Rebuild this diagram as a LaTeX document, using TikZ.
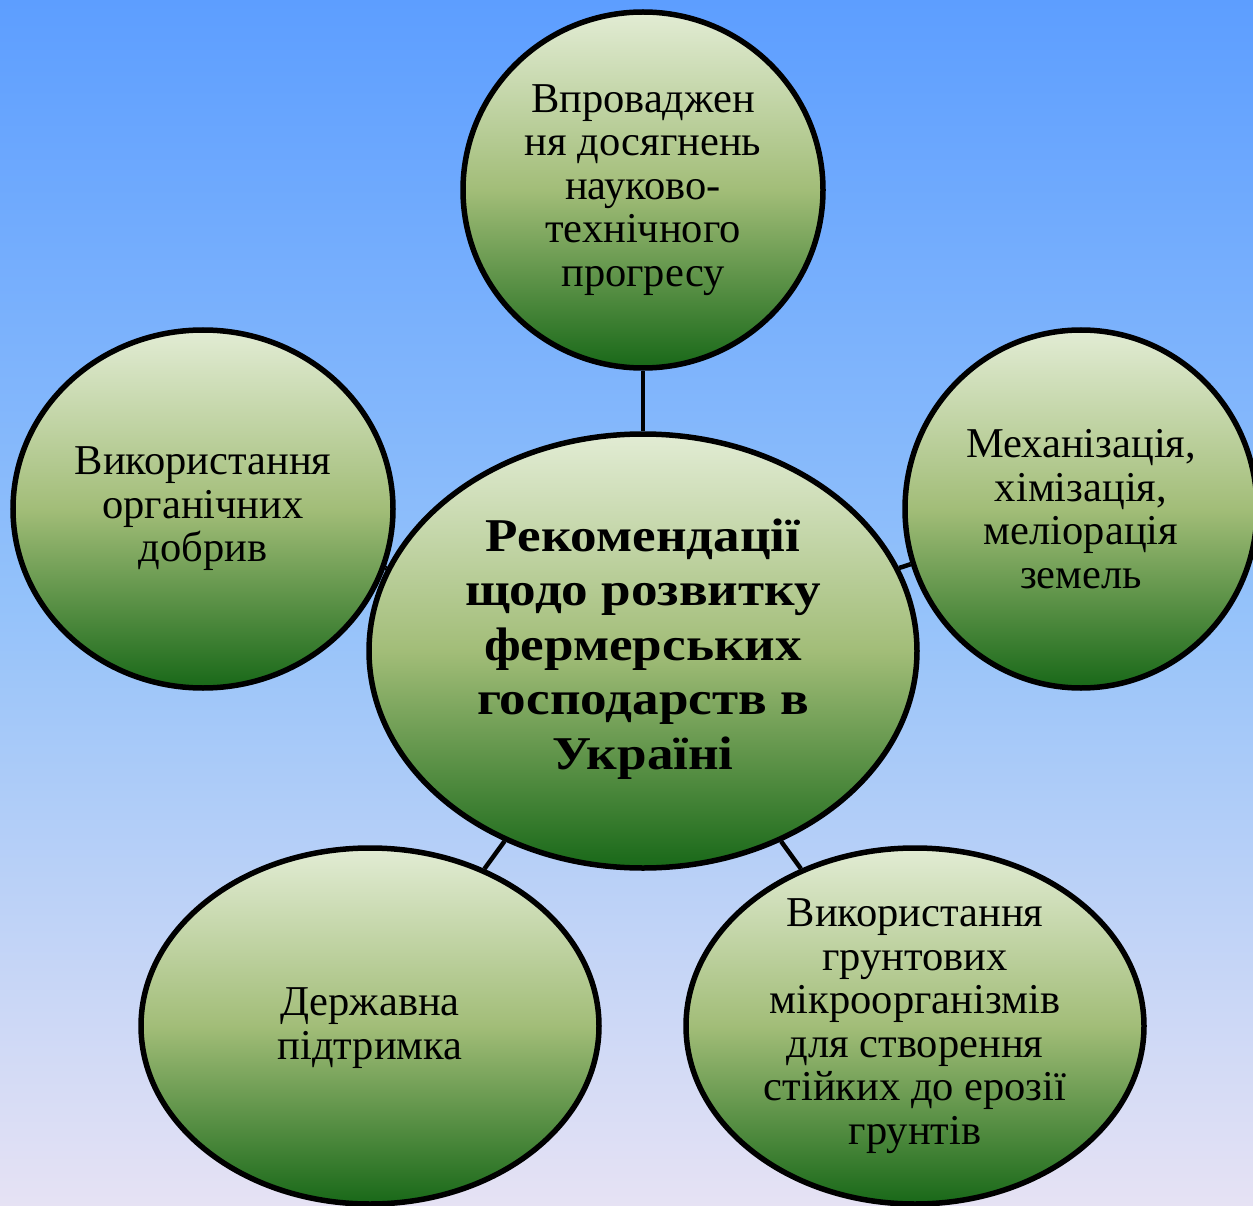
\documentclass[tikz,border=0pt]{standalone}
\usepackage{fontspec}
\setmainfont{Liberation Serif}
\usetikzlibrary{shapes.geometric}
\definecolor{bgtop}{RGB}{93,158,255}
\definecolor{bgmid}{RGB}{148,194,250}
\definecolor{bgbot}{RGB}{230,226,244}
\definecolor{eltop}{RGB}{226,236,212}
\definecolor{elmid}{RGB}{162,189,120}
\definecolor{elbot}{RGB}{24,104,24}
\begin{document}
\begin{tikzpicture}[x=1pt,y=-1pt,
  bubble/.style={ellipse, draw=black, line width=5.5pt, top color=eltop, bottom color=elbot, middle color=elmid, inner sep=0pt},
  txt/.style={align=center, font=\fontsize{42.5}{43.5}\selectfont, text=black},
  boldtxt/.style={align=center, font=\fontsize{47}{54.5}\selectfont\bfseries\addfontfeature{FakeStretch=1.13}, text=black},
  link/.style={line width=4.5pt, draw=black}]
\shade[top color=bgtop, bottom color=bgbot, middle color=bgmid] (0,0) rectangle (1253,1206);
\useasboundingbox (0,0) rectangle (1253,1206);

\node[bubble, minimum width=360pt, minimum height=356pt] (tp) at (643,190) {};
\node[bubble, minimum width=380pt, minimum height=358pt] (lf) at (203,509) {};
\node[bubble, minimum width=352pt, minimum height=358pt] (rt) at (1081,509) {};
\node[bubble, minimum width=458pt, minimum height=356pt] (bl) at (370,1026) {};
\node[bubble, minimum width=458pt, minimum height=356pt] (br) at (915,1026) {};
\node[bubble, minimum width=548pt, minimum height=434pt] (c) at (643,651) {};

\draw[link] (c) -- (tp);
\draw[link] (c) -- (lf);
\draw[link] (c) -- (rt);
\draw[link] (c) -- (bl);
\draw[link] (c) -- (br);

\node[txt] (tpt) at (tp.center) {Впроваджен\\ня досягнень\\науково-\\технічного\\прогресу};
\node[txt] (lft) at (lf.center) {Використання\\органічних\\добрив};
\node[txt] (rtt) at (rt.center) {Механізація,\\хімізація,\\меліорація\\земель};
\node[txt] (blt) at ([yshift=-2pt]bl.center) {Державна\\підтримка};
\node[txt] (brt) at (br.center) {Використання\\грунтових\\мікроорганізмів\\для створення\\стійких до ерозії\\грунтів};
\node[boldtxt] (ct) at ([yshift=2pt]c.center) {Рекомендації\\щодо розвитку\\фермерських\\господарств в\\Україні};
\end{tikzpicture}
\end{document}
